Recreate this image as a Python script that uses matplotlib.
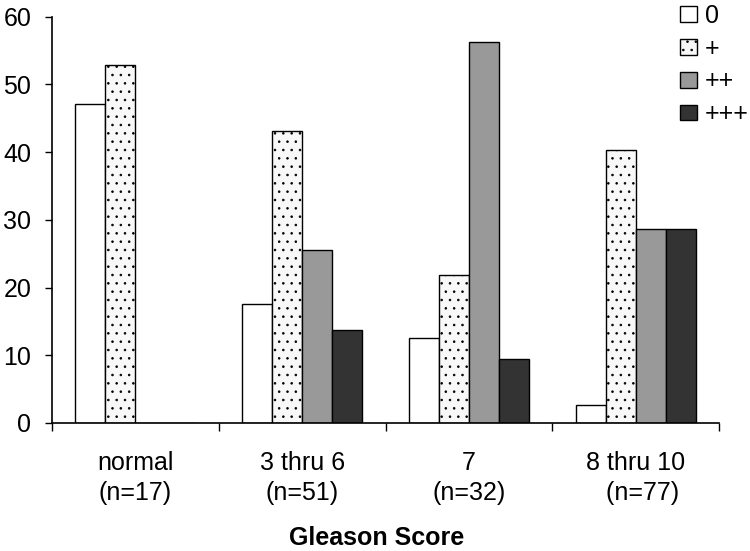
import matplotlib
matplotlib.use("Agg")
import matplotlib.pyplot as plt
import numpy as np

plt.rcParams["font.family"] = ["Liberation Sans", "DejaVu Sans"]
plt.rcParams["hatch.linewidth"] = 0.6

groups = ["normal\n(n=17)", "3 thru 6\n(n=51)", "7\n(n=32)", "8 thru 10\n  (n=77)"]
series = ["0", "+", "++", "+++"]
# percent of cases per staining grade
v0 = [47.1, 17.6, 12.5, 2.6]
v1 = [52.9, 43.1, 21.9, 40.3]
v2 = [0.0, 25.5, 56.2, 28.6]
v3 = [0.0, 13.7, 9.4, 28.6]

fig = plt.figure(figsize=(7.5, 5.51), dpi=100)
ax = fig.add_axes([52/750, 1-423/551, (719-52)/750, (423-16.7)/551])

x = np.arange(len(groups))
w = 0.18
styles = [dict(color="white", hatch=None),
          dict(color="#f8f8f8", hatch=".."),
          dict(color="#999999", hatch=None),
          dict(color="#333333", hatch=None)]
for i, (vals, lab, st) in enumerate(zip([v0, v1, v2, v3], series, styles)):
    ax.bar(x + (i - 1.5) * w, vals, w, color=st["color"], hatch=st["hatch"],
           edgecolor="black", linewidth=1.0, label=lab)

ax.set_xlim(-0.5, 3.5)
ax.set_ylim(0, 60)
ax.set_yticks(range(0, 61, 10))
ax.tick_params(axis="y", labelsize=18, length=5, width=1, pad=10)
ax.set_xticks(x)
ax.set_xticklabels(groups, fontsize=18, linespacing=1.35)
ax.set_xticks(np.arange(-0.5, 4, 1), minor=True)
ax.tick_params(axis="x", which="major", length=0, pad=20)
ax.tick_params(axis="x", which="minor", length=6, width=1)
for s in ["top", "right"]:
    ax.spines[s].set_visible(False)
for s in ["left", "bottom"]:
    ax.spines[s].set_linewidth(1.2)

fig.text(377/750, 6/551, "Gleason Score", ha="center", va="baseline",
         fontsize=18, fontweight="bold")

fig.legend(loc="upper left", bbox_to_anchor=(680/750, 1 - 4/551), frameon=False,
           fontsize=18, handlelength=0.68, handleheight=0.6, handletextpad=0.3,
           labelspacing=0.35, borderpad=0, borderaxespad=0)

fig.savefig("out.png", dpi=100)
